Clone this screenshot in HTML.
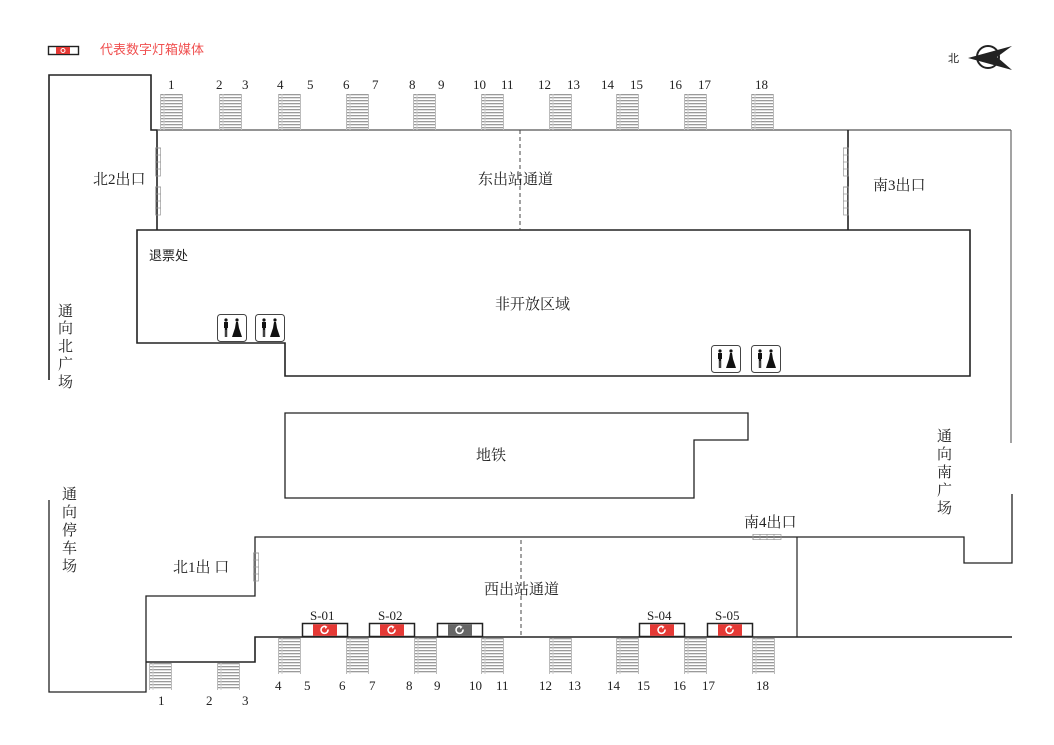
<!DOCTYPE html>
<html><head><meta charset="utf-8"><style>
html,body{margin:0;padding:0;background:#fff}
svg{display:block}
text{font-family:"Liberation Serif","Noto Serif CJK SC",serif;fill:#222}
.c{font-family:"Liberation Serif","Noto Sans CJK SC",sans-serif}
</style></head><body>
<svg width="1054" height="745" viewBox="0 0 1054 745" xmlns="http://www.w3.org/2000/svg">
<defs>
<pattern id="st" width="4" height="3" patternUnits="userSpaceOnUse"><rect x="0" y="0" width="4" height="1.3" fill="#9a9a9a"/></pattern>
<g id="stair"><rect x="0" y="0" width="23" height="36" fill="url(#st)"/><line x1="0.5" y1="0" x2="0.5" y2="36" stroke="#bbb"/><line x1="4" y1="0" x2="4" y2="36" stroke="#ccc"/><line x1="22.5" y1="0" x2="22.5" y2="36" stroke="#bbb"/></g>
<g id="stair2"><rect x="0" y="0" width="23" height="27" fill="url(#st)"/><line x1="0.5" y1="0" x2="0.5" y2="27" stroke="#bbb"/><line x1="4" y1="0" x2="4" y2="27" stroke="#ccc"/><line x1="22.5" y1="0" x2="22.5" y2="27" stroke="#bbb"/></g>
<g id="wc"><rect x="0.5" y="0.5" width="29" height="27" rx="3" fill="#fff" stroke="#444"/><circle cx="9" cy="6" r="1.6" fill="#111"/><path d="M7 8h4v6h-0.8v9h-1v-7h-0.4v7h-1v-9H7z" fill="#111"/><circle cx="20" cy="6" r="1.6" fill="#111"/><path d="M19 8h2l1 6 3 9h-10l3-9z" fill="#111"/></g>
<g id="med"><rect x="0.5" y="0.5" width="45" height="13" fill="#fff" stroke="#222" stroke-width="1.5"/><rect x="11" y="1.3" width="24" height="11.5" fill="#e53935"/><path d="M26 6.5a3.5 3.5 0 1 1 -2 -2.8" fill="none" stroke="#fff" stroke-width="1.6"/><path d="M22.5 2.5l3 1.3-2 2.2z" fill="#fff"/></g>
<g id="gate"><line x1="0" y1="0" x2="6" y2="0" stroke="#888" stroke-width=".7"/><rect x="0.5" y="0" width="5" height="28" fill="none" stroke="#999" stroke-width=".7"/><line x1="0" y1="7" x2="6" y2="7" stroke="#999" stroke-width=".7"/><line x1="0" y1="14" x2="6" y2="14" stroke="#999" stroke-width=".7"/><line x1="0" y1="21" x2="6" y2="21" stroke="#999" stroke-width=".7"/></g>
</defs>

<rect x="48.5" y="46.5" width="30" height="8" fill="#fff" stroke="#222" stroke-width="1.4"/>
<rect x="56" y="47" width="14" height="7" fill="#e53935"/>
<circle cx="63" cy="50.5" r="2" fill="none" stroke="#fff" stroke-width="1"/>
<text x="100" y="54" font-size="13" style="fill:#f05050" class="c">代表数字灯箱媒体</text>

<text x="948" y="62" font-size="11" class="c">北</text>
<circle cx="988" cy="57" r="11" fill="none" stroke="#222" stroke-width="2"/>
<path d="M968 58 L1012 46 L997 57 L1012 70 Z" fill="#222"/>

<g fill="none" stroke="#222" stroke-width="1.6">
<polyline points="49,380 49,75 151,75 151,130 157,130 157,230"/>
<line x1="157" y1="130" x2="1011" y2="130" stroke-width="1.2" stroke="#555"/>
<line x1="1011" y1="130" x2="1011" y2="443" stroke="#666" stroke-width="1.2"/>
<line x1="848" y1="130" x2="848" y2="230"/>
<polygon points="137,230 970,230 970,376 285,376 285,343 137,343"/>
<polygon points="285,413 748,413 748,440 694,440 694,498 285,498" stroke-width="1.3"/>
<polyline points="49,500 49,692 146,692 146,596 255,596 255,537 964,537 964,563 1012,563 1012,494" stroke-width="1.3"/>
<polyline points="146,662 255,662 255,637 1012,637" stroke-width="1.6"/>
<line x1="797" y1="537" x2="797" y2="637" stroke-width="1.2"/>
</g>
<line x1="520" y1="130" x2="520" y2="230" stroke="#444" stroke-dasharray="4,3"/>
<line x1="521" y1="540" x2="521" y2="637" stroke="#444" stroke-dasharray="4,3"/>

<use href="#gate" x="155" y="148"/>
<use href="#gate" x="155" y="187"/>
<use href="#gate" x="843" y="148"/>
<use href="#gate" x="843" y="187"/>
<use href="#gate" x="253" y="553"/>
<g transform="translate(753,540) rotate(-90)"><use href="#gate" x="0" y="0"/></g>

<use href="#stair" x="160" y="94"/>
<use href="#stair" x="219" y="94"/>
<use href="#stair" x="278" y="94"/>
<use href="#stair" x="346" y="94"/>
<use href="#stair" x="413" y="94"/>
<use href="#stair" x="481" y="94"/>
<use href="#stair" x="549" y="94"/>
<use href="#stair" x="616" y="94"/>
<use href="#stair" x="684" y="94"/>
<use href="#stair" x="751" y="94"/>
<g font-size="13">
<text x="168" y="89">1</text><text x="216" y="89">2</text><text x="242" y="89">3</text><text x="277" y="89">4</text><text x="307" y="89">5</text><text x="343" y="89">6</text><text x="372" y="89">7</text><text x="409" y="89">8</text><text x="438" y="89">9</text><text x="473" y="89">10</text><text x="501" y="89">11</text><text x="538" y="89">12</text><text x="567" y="89">13</text><text x="601" y="89">14</text><text x="630" y="89">15</text><text x="669" y="89">16</text><text x="698" y="89">17</text><text x="755" y="89">18</text>
</g>

<use href="#stair" x="278" y="638"/>
<use href="#stair" x="346" y="638"/>
<use href="#stair" x="414" y="638"/>
<use href="#stair" x="481" y="638"/>
<use href="#stair" x="549" y="638"/>
<use href="#stair" x="616" y="638"/>
<use href="#stair" x="684" y="638"/>
<use href="#stair" x="752" y="638"/>
<use href="#stair2" x="149" y="663"/>
<use href="#stair2" x="217" y="663"/>
<g font-size="13">
<text x="275" y="690">4</text><text x="304" y="690">5</text><text x="339" y="690">6</text><text x="369" y="690">7</text><text x="406" y="690">8</text><text x="434" y="690">9</text><text x="469" y="690">10</text><text x="496" y="690">11</text><text x="539" y="690">12</text><text x="568" y="690">13</text><text x="607" y="690">14</text><text x="637" y="690">15</text><text x="673" y="690">16</text><text x="702" y="690">17</text><text x="756" y="690">18</text>
<text x="158" y="705">1</text><text x="206" y="705">2</text><text x="242" y="705">3</text>
</g>

<use href="#med" x="302" y="623"/>
<use href="#med" x="369" y="623"/>
<g><rect x="437.5" y="623.5" width="45" height="13" fill="#fff" stroke="#222" stroke-width="1.5"/><rect x="448" y="624.3" width="24" height="11.5" fill="#666"/><path d="M463 629.5a3.5 3.5 0 1 1 -2 -2.8" fill="none" stroke="#fff" stroke-width="1.6"/><path d="M459.5 625.5l3 1.3-2 2.2z" fill="#fff"/></g>
<use href="#med" x="639" y="623"/>
<use href="#med" x="707" y="623"/>
<g font-size="13"><text x="310" y="620">S-01</text><text x="378" y="620">S-02</text><text x="647" y="620">S-04</text><text x="715" y="620">S-05</text></g>

<use href="#wc" x="217" y="314"/>
<use href="#wc" x="255" y="314"/>
<use href="#wc" x="711" y="345"/>
<use href="#wc" x="751" y="345"/>

<g font-size="15" class="c">
<text x="93" y="184">北2出口</text>
<text x="478" y="184">东出站通道</text>
<text x="873" y="190">南3出口</text>
<text x="495" y="309">非开放区域</text>
<text x="476" y="460">地铁</text>
<text x="173" y="572">北1出 口</text>
<text x="484" y="594">西出站通道</text>
<text x="744" y="527">南4出口</text>
</g>
<text x="149" y="260" font-size="13" class="c">退票处</text>
<g font-size="15" class="c">
<text x="58" y="316">通</text><text x="58" y="333">向</text><text x="58" y="351">北</text><text x="58" y="369">广</text><text x="58" y="387">场</text>
<text x="62" y="499">通</text><text x="62" y="517">向</text><text x="62" y="535">停</text><text x="62" y="553">车</text><text x="62" y="571">场</text>
<text x="937" y="441">通</text><text x="937" y="459">向</text><text x="937" y="477">南</text><text x="937" y="495">广</text><text x="937" y="513">场</text>
</g>
</svg>
</body></html>
